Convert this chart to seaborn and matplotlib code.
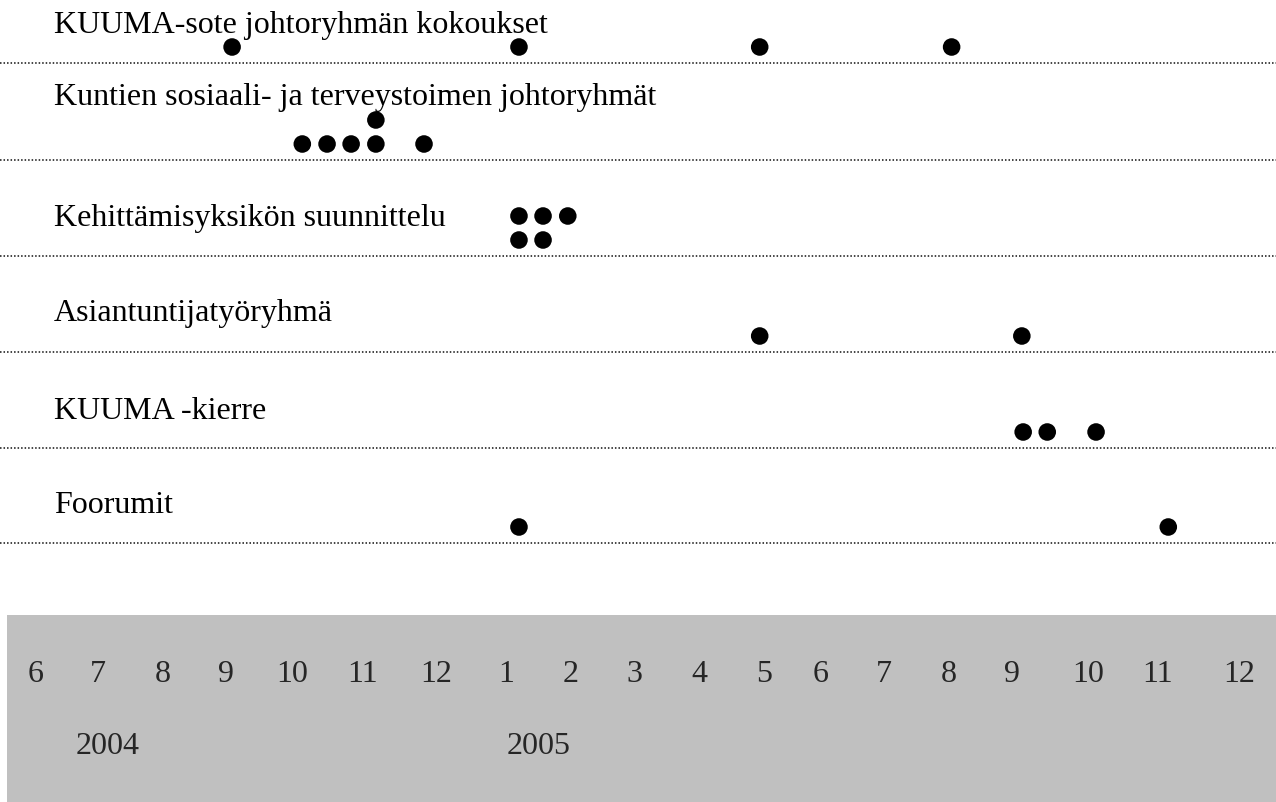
import seaborn as sns
import matplotlib.pyplot as plt
import pandas as pd

sns.set_style("white")
plt.rcParams['font.family'] = ['Liberation Serif', 'DejaVu Serif']

# rows of the timeline
rows = [
    "KUUMA-sote johtoryhmän kokoukset",
    "Kuntien sosiaali- ja terveystoimen johtoryhmät",
    "Kehittämisyksikön suunnittelu",
    "Asiantuntijatyöryhmä",
    "KUUMA -kierre",
    "Foorumit",
]

# events: row index, time (months since 6/2004), stack level above the line
event_row = [0, 0, 0, 0,
             1, 1, 1, 1, 1, 1,
             2, 2, 2, 2, 2,
             3, 3,
             4, 4, 4,
             5, 5]
event_month = [2.94, 7.23, 10.83, 13.70,
               3.99, 4.36, 4.72, 5.09, 5.81, 5.09,
               7.23, 7.59, 7.96, 7.23, 7.59,
               10.83, 14.75,
               14.77, 15.13, 15.86,
               7.23, 16.94]
event_level = [0, 0, 0, 0,
               0, 0, 0, 0, 0, 1,
               1, 1, 1, 0, 0,
               0, 0,
               0, 0, 0,
               0, 0]

month_labels = ["6", "7", "8", "9", "10", "11", "12",
                "1", "2", "3", "4", "5", "6", "7", "8", "9", "10", "11", "12"]
year_labels = ["2004", "2005"]

# layout (pixel units, figure is 1276x802)
W, H = 1276, 802
px_per_month = 66.87
x0_px = 35.5
month_tick_pos = [0, 0.935, 1.907, 2.856, 3.836, 4.898, 5.989, 7.036, 8.008, 8.95,
                  9.922, 10.902, 11.747, 12.689, 13.661, 14.603, 15.739, 16.786, 17.997]
year_pos = [1.08, 7.53]
line_y = [63, 160, 256, 352, 448, 543]
label_offset = [30, 55, 30, 31, 29, 30]
FS = 23

fig = plt.figure(figsize=(W / 100, H / 100), dpi=100)
ax = fig.add_axes([0, 0, 1, 1])
ax.set_xlim(-x0_px / px_per_month, (W - x0_px) / px_per_month)
ax.set_ylim(H, 0)
ax.axis("off")

# gray band at the bottom
band_left = (7 - x0_px) / px_per_month
ax.fill_between([band_left, ax.get_xlim()[1]], 615, H, color="#c0c0c0", lw=0, zorder=0)

label_x = (54 - x0_px) / px_per_month
for i, name in enumerate(rows):
    ax.axhline(line_y[i], color="#111111", lw=1.1, ls=(0, (1, 1.3)), zorder=1)
    ax.text(label_x, line_y[i] - label_offset[i], name,
            fontsize=FS, va="baseline", ha="left", color="black")

df = pd.DataFrame({"row": event_row, "month": event_month, "level": event_level})
df["y"] = [line_y[r] - 16 - 24 * lv for r, lv in zip(df["row"], df["level"])]
sns.scatterplot(data=df, x="month", y="y", s=160, color="black", edgecolor="none",
                ax=ax, zorder=3, legend=False)

for pos, lab in zip(month_tick_pos, month_labels):
    ax.text(pos, 682, lab, fontsize=FS, ha="center", va="baseline")
for pos, lab in zip(year_pos, year_labels):
    ax.text(pos, 754, lab, fontsize=FS, ha="center", va="baseline")

fig.savefig("out.png", dpi=100)
